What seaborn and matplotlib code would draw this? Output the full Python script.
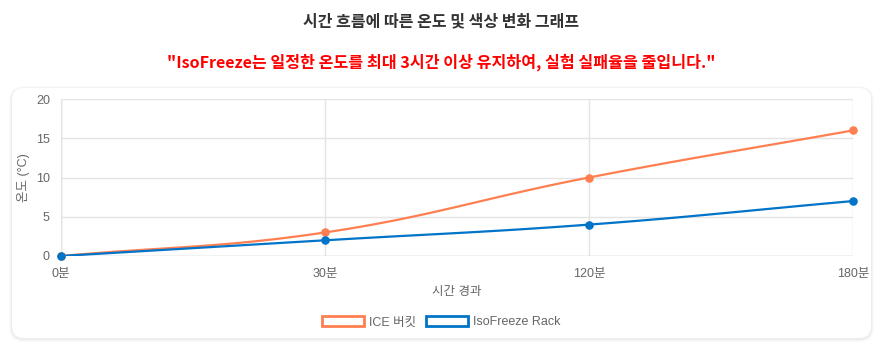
import numpy as np
import pandas as pd
import matplotlib
matplotlib.use("Agg")
import matplotlib.pyplot as plt
import seaborn as sns
from matplotlib.patches import FancyBboxPatch, Patch

# ---- data ----
time_labels = ["0분", "30분", "120분", "180분"]
ice_bucket = [0, 3, 10, 16]
isofreeze_rack = [0, 2, 4, 7]
series_names = ["ICE 버킷", "IsoFreeze Rack"]
series_colors = ["#FF7F50", "#0074C8"]
y_ticks = [0, 5, 10, 15, 20]

title_text = "시간 흐름에 따른 온도 및 색상 변화 그래프"
subtitle_text = "\"IsoFreeze는 일정한 온도를 최대 3시간 이상 유지하여, 실험 실패율을 줄입니다.\""
x_label = "시간 경과"
y_label = "온도 (°C)"

sns.set_theme(style="white")
plt.rcParams["font.family"] = ["Liberation Sans", "Noto Sans CJK KR", "DejaVu Sans"]

W, H = 883, 344
fig = plt.figure(figsize=(W / 100, H / 100), dpi=100)
fig.patch.set_facecolor("white")

# card with soft shadow
for i, a in enumerate([0.018, 0.022, 0.026]):
    g = 3 - i
    fig.patches.append(FancyBboxPatch(
        ((12 - g) / W, (H - 338 - g - 1) / H), (859 + 2 * g) / W, (250 + 2 * g) / H,
        boxstyle=f"round,pad=0,rounding_size={(12 + g) / W}",
        transform=fig.transFigure, facecolor="black", edgecolor="none",
        alpha=a, zorder=0, mutation_aspect=W / H))
fig.patches.append(FancyBboxPatch(
    (12 / W, (H - 338) / H), 859 / W, 250 / H,
    boxstyle=f"round,pad=0,rounding_size={12 / W}",
    transform=fig.transFigure, facecolor="white", edgecolor="none",
    zorder=1, mutation_aspect=W / H))

ax = fig.add_axes([61 / W, 1 - 256 / H, (853 - 61) / W, (256 - 99) / H])
ax.set_facecolor("none")
ax.set_zorder(2)
ax.set_xlim(0, len(time_labels) - 1)
ax.set_ylim(0, 20)

grid_c = "#e4e4e4"
ax.set_xticks(range(len(time_labels)))
ax.set_xticklabels(time_labels)
ax.set_yticks(y_ticks)
ax.grid(True, color=grid_c, linewidth=1)
for s in ax.spines.values():
    s.set_visible(False)
ax.axhline(0, color="#cfcfcf", lw=1, zorder=0.5)
ax.axvline(0, color="#cfcfcf", lw=1, zorder=0.5)
ax.tick_params(axis="both", length=6, width=1, color=grid_c, labelcolor="#666666",
               labelsize=9, pad=2)
ax.tick_params(axis="x", pad=3)


def spline_path(xs, ys, tension=0.4, n=40):
    """Smooth curve through points with Chart.js-style control points."""
    pts = ax.transData.transform(np.column_stack([xs, ys]))
    m = len(pts)
    cps = []
    for i in range(m):
        prev = pts[i - 1] if i > 0 else pts[i]
        cur = pts[i]
        nxt = pts[i + 1] if i < m - 1 else pts[i]
        d01 = np.hypot(*(cur - prev))
        d12 = np.hypot(*(nxt - cur))
        tot = d01 + d12
        s01 = d01 / tot if tot else 0
        s12 = d12 / tot if tot else 0
        fa, fb = tension * s01, tension * s12
        cps.append((cur - fa * (nxt - prev), cur + fb * (nxt - prev)))
    out = []
    t = np.linspace(0, 1, n)[:, None]
    for i in range(m - 1):
        p0, p3 = pts[i], pts[i + 1]
        p1, p2 = cps[i][1], cps[i + 1][0]
        seg = ((1 - t) ** 3) * p0 + 3 * ((1 - t) ** 2) * t * p1 + 3 * (1 - t) * t ** 2 * p2 + t ** 3 * p3
        out.append(seg if i == 0 else seg[1:])
    out = np.vstack(out)
    return ax.transData.inverted().transform(out)


x_pos = np.arange(len(time_labels))
for vals, name, col in zip([ice_bucket, isofreeze_rack], series_names, series_colors):
    curve = spline_path(x_pos, vals)
    cdf = pd.DataFrame({"x": curve[:, 0], "y": curve[:, 1]})
    sns.lineplot(data=cdf, x="x", y="y", ax=ax, sort=False, color=col, lw=1.6,
                 estimator=None, zorder=3)
    pdf = pd.DataFrame({"x": x_pos, "y": vals})
    sns.scatterplot(data=pdf, x="x", y="y", ax=ax, color=col, s=38, edgecolor=col,
                    linewidth=0, zorder=4, clip_on=False)

ax.set_xlabel(x_label, color="#666666", fontsize=9, labelpad=4)
ax.set_ylabel(y_label, color="#666666", fontsize=9, labelpad=4)

fig.text(0.5, 1 - 21 / H, title_text, ha="center", va="center", fontsize=11.5,
         color="#333333", fontweight="bold", family=["Noto Sans CJK KR", "DejaVu Sans"])
fig.text(0.5, 1 - 62 / H, subtitle_text, ha="center", va="center", fontsize=11.6,
         color="#FF0000", fontweight="bold", family=["Noto Sans CJK KR", "DejaVu Sans"])

handles = [Patch(facecolor="white", edgecolor=c, linewidth=2) for c in series_colors]
leg = fig.legend(handles, series_names, loc="center", bbox_to_anchor=(0.5, 1 - 322 / H),
                 ncol=2, frameon=False, fontsize=9, handlelength=3.3, handleheight=0.9,
                 handletextpad=0.45, columnspacing=0.8, labelcolor="#666666")

fig.savefig("out.png", dpi=100, facecolor="white")
